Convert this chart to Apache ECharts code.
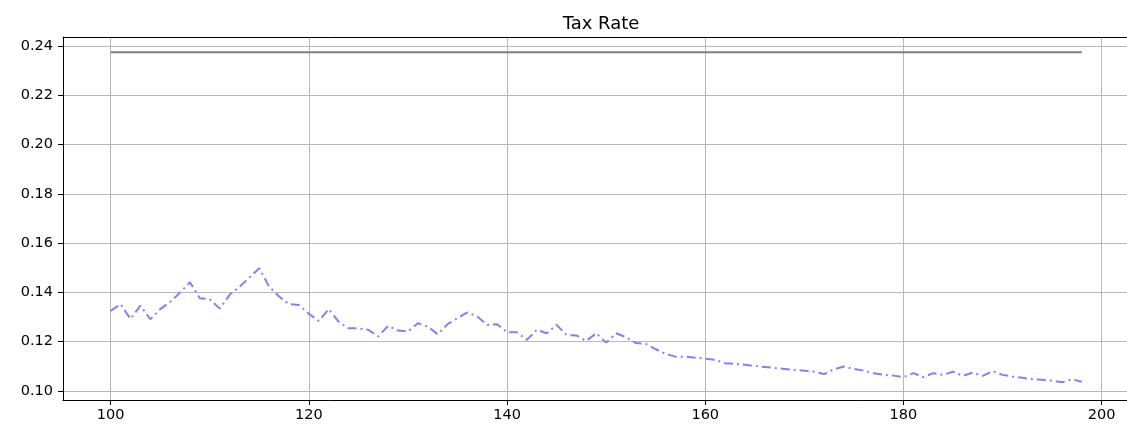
<!DOCTYPE html>
<html>
<head>
<meta charset="utf-8">
<script src="https://cdn.jsdelivr.net/npm/echarts@6/dist/echarts.min.js"></script>
<style>
  html, body { margin: 0; padding: 0; background: #fff; }
  #chart { width: 1127px; height: 427px; }
</style>
</head>
<body>
<div id="chart"></div>
<script>
// Period index 100..198
const periods = [];
for (let p = 100; p <= 198; p++) periods.push(p);

// Effective tax rate per period
const taxRate = [
  0.1325, 0.1352, 0.1292, 0.1346, 0.1291, 0.1332, 0.1361, 0.1399, 0.1441, 0.1376,
  0.1372, 0.1334, 0.1390, 0.1423, 0.1460, 0.1498, 0.1423, 0.1383, 0.1352, 0.1349,
  0.1313, 0.1284, 0.1332, 0.1281, 0.1254, 0.1254, 0.1248, 0.1221, 0.1264, 0.1245,
  0.1241, 0.1275, 0.1261, 0.1230, 0.1271, 0.1295, 0.1319, 0.1302, 0.1268, 0.1271,
  0.1238, 0.1238, 0.1207, 0.1248, 0.1234, 0.1268, 0.1227, 0.1225, 0.1203, 0.1234,
  0.1196, 0.1234, 0.1218, 0.1194, 0.1191, 0.1169, 0.1150, 0.1139, 0.1139, 0.1135,
  0.1131, 0.1126, 0.1112, 0.1110, 0.1106, 0.1101, 0.1097, 0.1093, 0.1089, 0.1085,
  0.1082, 0.1078, 0.1068, 0.1088, 0.1099, 0.1089, 0.1082, 0.1072, 0.1065, 0.1062,
  0.1056, 0.1072, 0.1056, 0.1072, 0.1065, 0.1078, 0.1061, 0.1074, 0.1061, 0.1080,
  0.1065, 0.1058, 0.1053, 0.1047, 0.1045, 0.1041, 0.1035, 0.1047, 0.1037
];

// Reference (statutory) rate, constant over the periods
const referenceRate = 0.2375;

const xTicks = [100, 120, 140, 160, 180, 200];
const yTicks = [0.10, 0.12, 0.14, 0.16, 0.18, 0.20, 0.22, 0.24];

const blueData = periods.map((p, i) => [p, taxRate[i]]);
const grayData = periods.map(p => [p, referenceRate]);

const font = 'DejaVu Sans';
const X_MIN = 95.19, X_MAX = 202.56;
const chart = echarts.init(document.getElementById('chart'), null, { renderer: 'canvas' });

chart.setOption({
  animation: false,
  title: {
    text: 'Tax Rate',
    left: 596, top: 10, textAlign: 'center',
    textStyle: { fontFamily: font, fontSize: 18, fontWeight: 'normal', color: '#000' }
  },
  grid: { left: 63, right: 0, top: 37, bottom: 27 },
  xAxis: [
    {
      type: 'value', position: 'bottom',
      min: X_MIN, max: X_MAX,
      axisLine: { show: true, onZero: false, lineStyle: { color: '#000', width: 1 } },
      axisTick: { show: true, length: 5, lineStyle: { color: '#000' }, customValues: xTicks },
      axisLabel: { fontFamily: font, fontSize: 14.5, color: '#000', margin: 8, customValues: xTicks,
                   formatter: v => String(v) },
      splitLine: { show: true, lineStyle: { color: '#b8b8b8', width: 1 } }
    },
    {
      // top spine only
      type: 'value', position: 'top',
      min: X_MIN, max: X_MAX,
      axisLine: { show: true, onZero: false, lineStyle: { color: '#000', width: 1 } },
      axisTick: { show: false }, axisLabel: { show: false }, splitLine: { show: false }
    }
  ],
  yAxis: {
    type: 'value',
    min: 0.0963, max: 0.2437,
    axisLine: { show: true, onZero: false, lineStyle: { color: '#000', width: 1 } },
    axisTick: { show: true, length: 5, lineStyle: { color: '#000' }, customValues: yTicks },
    axisLabel: { fontFamily: font, fontSize: 14.5, color: '#000', margin: 10, customValues: yTicks,
                 formatter: v => v.toFixed(2) },
    splitLine: { show: true, lineStyle: { color: '#b8b8b8', width: 1 } }
  },
  series: [
    {
      type: 'line',
      data: grayData,
      showSymbol: false,
      lineStyle: { color: '#808080', width: 2 },
      z: 3
    },
    {
      type: 'line',
      data: blueData,
      showSymbol: false,
      lineStyle: { color: '#8080ff', width: 2, type: [9, 4, 2, 4] },
      z: 4
    }
  ]
});
</script>
</body>
</html>
